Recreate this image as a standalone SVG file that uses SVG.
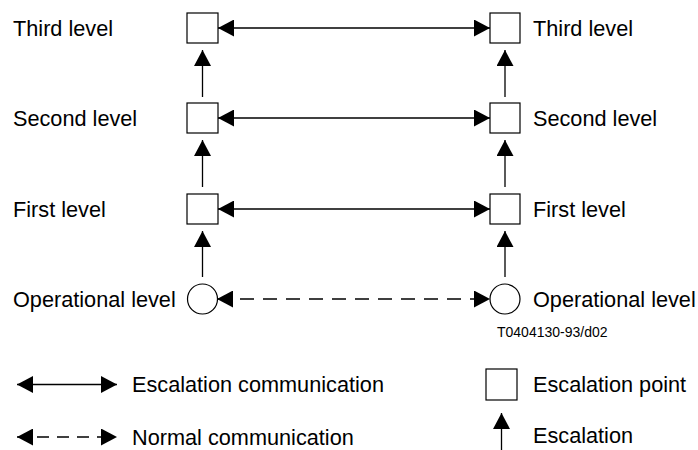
<svg xmlns="http://www.w3.org/2000/svg" width="698" height="450" viewBox="0 0 698 450">
<style>
text{font-family:"Liberation Sans",Arial,sans-serif;font-size:21.7px;fill:#000}
.small{font-size:14px}
.box{fill:#fff;stroke:#000;stroke-width:1.2}
.ln{fill:none;stroke:#000;stroke-width:1.3}
.dash{stroke-dasharray:14 9}
.dashl{stroke-dasharray:12 8}
</style>
<defs>
<marker id="ah" viewBox="0 0 16 17" refX="16" refY="8.5" markerWidth="16" markerHeight="17" markerUnits="userSpaceOnUse" orient="auto-start-reverse">
<path d="M0,0 L16,8.5 L0,17 z" fill="#000"/>
</marker>
</defs>
<g id="connectors">
<path class="ln" d="M218,28 H490" marker-start="url(#ah)" marker-end="url(#ah)"/>
<path class="ln" d="M218,118 H490" marker-start="url(#ah)" marker-end="url(#ah)"/>
<path class="ln" d="M218,209 H490" marker-start="url(#ah)" marker-end="url(#ah)"/>
<path class="ln dash" d="M217,299 H490" marker-start="url(#ah)" marker-end="url(#ah)"/>
<path class="ln" d="M202.5,97 V50" marker-end="url(#ah)"/>
<path class="ln" d="M202.5,187 V140" marker-end="url(#ah)"/>
<path class="ln" d="M202.5,277 V231" marker-end="url(#ah)"/>
<path class="ln" d="M505,97 V50" marker-end="url(#ah)"/>
<path class="ln" d="M505,187 V140" marker-end="url(#ah)"/>
<path class="ln" d="M505,277 V231" marker-end="url(#ah)"/>
</g>
<g id="left-third"><rect class="box" x="187" y="13" width="31" height="30"/><text x="13" y="36">Third level</text></g>
<g id="left-second"><rect class="box" x="187" y="103" width="31" height="30"/><text x="13" y="126">Second level</text></g>
<g id="left-first"><rect class="box" x="187" y="194" width="31" height="30"/><text x="13" y="217">First level</text></g>
<g id="left-operational"><circle class="box" cx="202.5" cy="299" r="15"/><text x="13" y="307">Operational level</text></g>
<g id="right-third"><rect class="box" x="490" y="13" width="30" height="30"/><text x="533" y="36">Third level</text></g>
<g id="right-second"><rect class="box" x="490" y="103" width="30" height="30"/><text x="533" y="126">Second level</text></g>
<g id="right-first"><rect class="box" x="490" y="194" width="30" height="30"/><text x="533" y="217">First level</text></g>
<g id="right-operational"><circle class="box" cx="505" cy="299" r="15"/><text x="533" y="307">Operational level</text></g>
<text class="small" x="497" y="337">T0404130-93/d02</text>
<g id="legend">
<path class="ln" d="M17,384.5 H117" marker-start="url(#ah)" marker-end="url(#ah)"/>
<text x="132" y="392">Escalation communication</text>
<path class="ln dashl" d="M17,437 H117" marker-start="url(#ah)" marker-end="url(#ah)"/>
<text x="132" y="445">Normal communication</text>
<rect class="box" x="486" y="369" width="31" height="31"/>
<text x="533" y="392">Escalation point</text>
<path class="ln" d="M501.5,450 V413" marker-end="url(#ah)"/>
<text x="533" y="443">Escalation</text>
</g>
</svg>
